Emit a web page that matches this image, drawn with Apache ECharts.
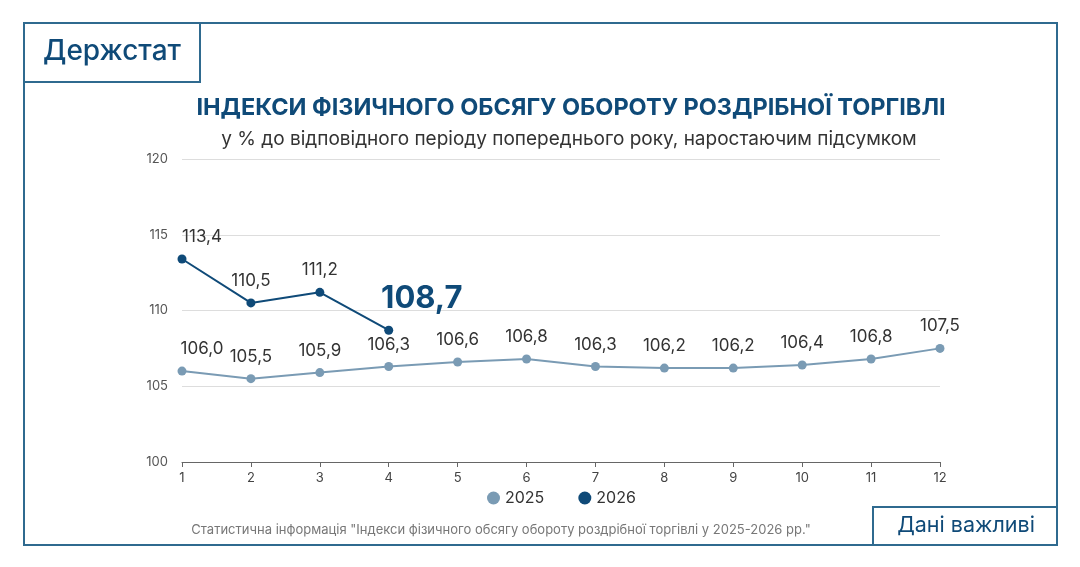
<!DOCTYPE html>
<html><head><meta charset="utf-8">
<script src="https://cdn.jsdelivr.net/npm/echarts@6/dist/echarts.min.js"></script>
<style>html,body{margin:0;padding:0;background:#fff}#c{width:1080px;height:567px}</style>
</head><body><div id="c"></div>
<script>
const categories = ['1','2','3','4','5','6','7','8','9','10','11','12'];
const values2025 = [106.0,105.5,105.9,106.3,106.6,106.8,106.3,106.2,106.2,106.4,106.8,107.5];
const values2026 = [113.4,110.5,111.2,108.7];
const yTicks = [100,105,110,115,120];
const fmt = v => v.toFixed(1).replace('.', ',');
const font = 'Inter, "Noto Sans", sans-serif';
const frame = '#2f6a8f';
const firstShift = (arr) => arr.map((v,i)=> i===0 ? {value:v,label:{offset:[20,0]}} : v);
const data2026 = values2026.map((v,i)=> i===0 ? {value:v,label:{offset:[20,0]}} :
  i===values2026.length-1 ? {value:v,label:{fontSize:31,fontWeight:'bold',color:'#0f4a78',offset:[33,0],distance:12}} : v);
const chart = echarts.init(document.getElementById('c'));
chart.setOption({
  animation:false,
  textStyle:{fontFamily:font},
  title:[
    {text:'ІНДЕКСИ ФІЗИЧНОГО ОБСЯГУ ОБОРОТУ РОЗДРІБНОЇ ТОРГІВЛІ',left:566,textAlign:'center',top:91,textStyle:{fontSize:23.5,fontWeight:'bold',color:'#0f4a78',fontFamily:font}},
    {text:'у % до відповідного періоду попереднього року, наростаючим підсумком',left:564,textAlign:'center',top:125,textStyle:{fontSize:19,fontWeight:'normal',color:'#333',fontFamily:font}},
    {text:'Статистична інформація "Індекси фізичного обсягу обороту роздрібної торгівлі у 2025-2026 рр."',left:496,textAlign:'center',top:519,textStyle:{fontSize:13,fontWeight:'normal',color:'#777',fontFamily:font}}
  ],
  graphic:[
    {type:'rect',shape:{x:24,y:23,width:1033,height:522},style:{fill:'none',stroke:frame,lineWidth:2}},
    {type:'rect',shape:{x:24,y:23,width:176,height:59},style:{fill:'#fff',stroke:frame,lineWidth:2}},
    {type:'text',x:112,y:52,style:{text:'Держстат',fill:'#0f4a78',font:'500 28px '+font,align:'center',verticalAlign:'middle'}},
    {type:'rect',shape:{x:873,y:507,width:184,height:38},style:{fill:'#fff',stroke:frame,lineWidth:2}},
    {type:'text',x:966,y:526,style:{text:'Дані важливі',fill:'#0f4a78',font:'21.5px '+font,align:'center',verticalAlign:'middle'}}
  ],
  legend:{bottom:56,left:482,itemGap:34,icon:'circle',itemWidth:13,itemHeight:13,textStyle:{fontSize:16,color:'#333'},data:['2025','2026']},
  grid:{left:182,right:140,top:159,bottom:105},
  xAxis:{type:'category',data:categories,boundaryGap:false,axisLine:{lineStyle:{color:'#666'}},axisTick:{show:true,alignWithLabel:true,lineStyle:{color:'#666'}},axisLabel:{color:'#444',fontSize:13,margin:10}},
  yAxis:{type:'value',min:yTicks[0],max:yTicks[yTicks.length-1],interval:5,axisLabel:{color:'#555',fontSize:13,margin:14},splitLine:{lineStyle:{color:'#ddd'}},axisLine:{show:false},axisTick:{show:false}},
  series:[
    {name:'2025',type:'line',data:firstShift(values2025),symbol:'circle',symbolSize:9,itemStyle:{color:'#7a9bb4'},lineStyle:{color:'#7a9bb4',width:2},
     label:{show:true,position:'top',distance:9,formatter:p=>fmt(p.value),color:'#333',fontSize:17}},
    {name:'2026',type:'line',data:data2026,symbol:'circle',symbolSize:9,itemStyle:{color:'#0f4a78'},lineStyle:{color:'#0f4a78',width:2},
     label:{show:true,position:'top',distance:9,formatter:p=>fmt(p.value),color:'#333',fontSize:17}}
  ]
});
</script></body></html>
